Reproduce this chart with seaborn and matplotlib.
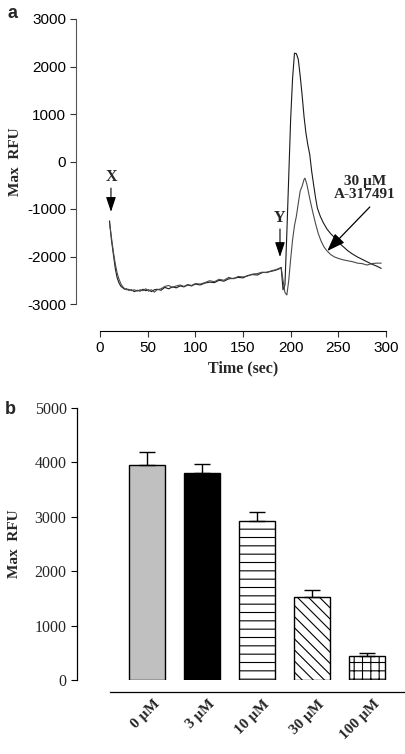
import matplotlib
matplotlib.use("Agg")
import matplotlib.pyplot as plt
import seaborn as sns
import numpy as np
import pandas as pd
from matplotlib import transforms

# ---------------- data ----------------
ctrl_t = [10, 12, 14, 16, 18, 20, 22, 24, 26, 28, 30, 33, 36, 39, 42, 45, 48, 51, 54, 57,
          60, 64, 68, 72, 76, 80, 84, 88, 92, 96, 100, 105, 110, 115, 120, 125, 130, 135, 140, 145,
          150, 155, 160, 165, 170, 175, 180, 184, 188, 190, 192, 194, 196, 198, 200, 202, 204, 206, 208, 210,
          212, 214, 216, 218, 220, 222, 224, 226, 228, 231, 234, 238, 242, 246, 250, 255, 260, 265, 270, 275,
          280, 285, 290, 295]
ctrl_v = [-1250, -1650, -1950, -2250, -2450, -2560, -2630, -2660, -2690, -2680, -2710, -2700, -2740, -2710, -2730, -2690, -2720, -2700, -2740, -2700,
          -2690, -2710, -2650, -2680, -2640, -2660, -2620, -2640, -2600, -2620, -2580, -2600, -2560, -2540, -2550, -2500, -2520, -2470, -2460, -2440,
          -2450, -2400, -2380, -2390, -2340, -2330, -2310, -2290, -2260, -2230, -2700, -2600, -1500, -300, 900, 1750, 2280, 2270, 2150, 1800,
          1400, 950, 600, 350, 150, -200, -480, -750, -980, -1150, -1280, -1420, -1520, -1600, -1700, -1790, -1880, -1950, -2010, -2060,
          -2110, -2160, -2200, -2250]

drug_t = [10, 12, 14, 16, 18, 20, 22, 24, 26, 28, 30, 33, 36, 39, 42, 45, 48, 51, 54, 57,
          60, 64, 68, 72, 76, 80, 84, 88, 92, 96, 100, 105, 110, 115, 120, 125, 130, 135, 140, 145,
          150, 155, 160, 165, 170, 175, 180, 184, 188, 190, 192, 194, 196, 198, 200, 202, 204, 206, 208, 210,
          212, 214, 215, 217, 220, 223, 226, 229, 232, 235, 238, 242, 246, 250, 255, 260, 265, 270, 275, 280,
          285, 290, 295]
drug_v = [-1300, -1600, -1900, -2150, -2350, -2480, -2580, -2640, -2680, -2700, -2690, -2720, -2700, -2730, -2700, -2720, -2680, -2730, -2700, -2750,
          -2700, -2680, -2630, -2610, -2650, -2620, -2600, -2630, -2590, -2610, -2570, -2580, -2550, -2510, -2530, -2480, -2500, -2440, -2470, -2420,
          -2430, -2410, -2370, -2360, -2330, -2340, -2300, -2280, -2250, -2230, -2500, -2760, -2810, -2500, -2050, -1650, -1350, -1150, -880, -620,
          -520, -380, -350, -480, -780, -1050, -1300, -1520, -1680, -1800, -1880, -1960, -2010, -2040, -2070, -2090, -2110, -2140, -2150, -2180,
          -2150, -2140, -2140]

time_ticks = [0, 50, 100, 150, 200, 250, 300]
rfu_ticks_a = [-3000, -2000, -1000, 0, 1000, 2000, 3000]

conc_labels = ["0 µM", "3 µM", "10 µM", "30 µM", "100 µM"]
bar_means = [3960, 3800, 2930, 1530, 440]
bar_sem = [230, 170, 160, 120, 60]
bar_colors = ["#c0c0c0", "#000000", "#ffffff", "#ffffff", "#ffffff"]
bar_hatches = ["", "", "--", "\\\\\\", "++"]
rfu_ticks_b = [0, 1000, 2000, 3000, 4000, 5000]

# ---------------- style ----------------
sns.set_theme(style="ticks")
plt.rcParams["font.family"] = ["Liberation Sans", "DejaVu Sans"]
plt.rcParams["hatch.linewidth"] = 0.8
plt.rcParams["hatch.color"] = "black"

SERIF = ["Liberation Serif", "DejaVu Serif"]
SANS = ["Liberation Sans", "DejaVu Sans"]

W, H = 406, 754
fig = plt.figure(figsize=(W / 100, H / 100), dpi=100)

def px_axes(l, t, r, b):
    return fig.add_axes([l / W, 1 - b / H, (r - l) / W, (b - t) / H])

# ---------------- panel a ----------------
ax1 = px_axes(100, 19, 386, 304)
trace = pd.concat([
    pd.DataFrame({"t": ctrl_t, "v": ctrl_v, "cond": "control"}),
    pd.DataFrame({"t": drug_t, "v": drug_v, "cond": "drug"}),
])
sns.lineplot(data=trace, x="t", y="v", hue="cond", palette={"control": "#1a1a1a", "drug": "#4a4a4a"},
             linewidth=0.8, legend=False, ax=ax1, sort=False, estimator=None)
ax1.set_xlim(0, 300)
ax1.set_ylim(-3000, 3000)
for s in ("top", "right"):
    ax1.spines[s].set_visible(False)
ax1.spines["left"].set_position(("outward", 24 * 0.72))
ax1.spines["bottom"].set_position(("outward", 27 * 0.72))
ax1.spines["left"].set_color("#555555")
ax1.spines["bottom"].set_color("black")
for s in ("left", "bottom"):
    ax1.spines[s].set_linewidth(0.8)
ax1.tick_params(axis="both", direction="out", length=4.5, width=0.8, color="#333333", pad=2.5, labelcolor="black")
ax1.set_xticks(time_ticks)
ax1.set_yticks(rfu_ticks_a)
ax1.set_xticklabels([str(t) for t in time_ticks], family=SANS, fontsize=11)
ax1.set_yticklabels([str(v) for v in rfu_ticks_a], family=SANS, fontsize=11)
ax1.set_xlabel("Time (sec)", family=SERIF, fontweight="bold", fontsize=11.5, labelpad=4)
ax1.set_ylabel("Max  RFU", family=SERIF, fontweight="bold", fontsize=11, labelpad=4)

arrow_small = dict(arrowstyle="-|>,head_length=0.9,head_width=0.3", color="black",
                   lw=0.8, mutation_scale=10, shrinkA=0, shrinkB=0)
ax1.text(11.5, -330, "X", ha="center", va="center", family=SERIF, fontweight="bold", fontsize=11.5)
ax1.annotate("", xy=(11.5, -1060), xytext=(11.5, -560), arrowprops=arrow_small)
ax1.text(188.8, -1190, "Y", ha="center", va="center", family=SERIF, fontweight="bold", fontsize=11.5)
ax1.annotate("", xy=(188.8, -2010), xytext=(188.8, -1420), arrowprops=arrow_small)
ax1.text(278, -560, "30 µM\nA-317491", ha="center", va="center",
         family=SERIF, fontweight="bold", fontsize=11, linespacing=1.05)
ax1.annotate("", xy=(238.4, -1884), xytext=(283, -958),
             arrowprops=dict(arrowstyle="-|>,head_length=1.1,head_width=0.4", color="black",
                             lw=0.9, mutation_scale=10, shrinkA=0, shrinkB=0))

fig.text(13 / W, 1 - 14 / H, "a", family=SANS, fontweight="bold", fontsize=13, ha="center", va="center")

# ---------------- panel b ----------------
ax2 = px_axes(110, 408, 404, 680)
bars_df = pd.DataFrame({"conc": conc_labels, "rfu": bar_means})
sns.barplot(data=bars_df, x="conc", y="rfu", hue="conc", palette=bar_colors, legend=False,
            width=0.65, edgecolor="black", linewidth=1.0, errorbar=None, ax=ax2)
for patch, h in zip(ax2.patches, bar_hatches):
    patch.set_hatch(h)
ax2.errorbar(np.arange(len(bar_means)), bar_means, yerr=[np.zeros(len(bar_sem)), bar_sem],
             fmt="none", ecolor="black", elinewidth=1.0, capsize=6, capthick=1.0)
ax2.set_xlim(-0.673, 4.673)
ax2.set_ylim(0, 5000)
for s in ("top", "right"):
    ax2.spines[s].set_visible(False)
ax2.spines["left"].set_position(("outward", 33 * 0.72))
ax2.spines["bottom"].set_position(("outward", 12 * 0.72))
for s in ("left", "bottom"):
    ax2.spines[s].set_linewidth(0.9)
    ax2.spines[s].set_color("black")
ax2.tick_params(axis="y", direction="out", length=4.5, width=0.8, color="black", pad=3)
ax2.tick_params(axis="x", length=0, pad=4)
ax2.set_yticks(rfu_ticks_b)
ax2.set_yticklabels([str(v) for v in rfu_ticks_b], family=SERIF, fontsize=11.5)
ax2.set_xticks(range(len(conc_labels)))
ax2.set_xticklabels(conc_labels, family=SERIF, fontweight="bold", fontsize=11,
                    rotation=45, ha="right", va="top", rotation_mode="anchor")
offset = transforms.ScaledTranslation(6 / 100, 0, fig.dpi_scale_trans)
for lab in ax2.get_xticklabels():
    lab.set_transform(lab.get_transform() + offset)
ax2.set_xlabel("")
ax2.set_ylabel("Max  RFU", family=SERIF, fontweight="bold", fontsize=11, labelpad=10)

fig.text(10 / W, 1 - 410 / H, "b", family=SANS, fontweight="bold", fontsize=13, ha="center", va="center")

fig.savefig("out.png", dpi=100)
